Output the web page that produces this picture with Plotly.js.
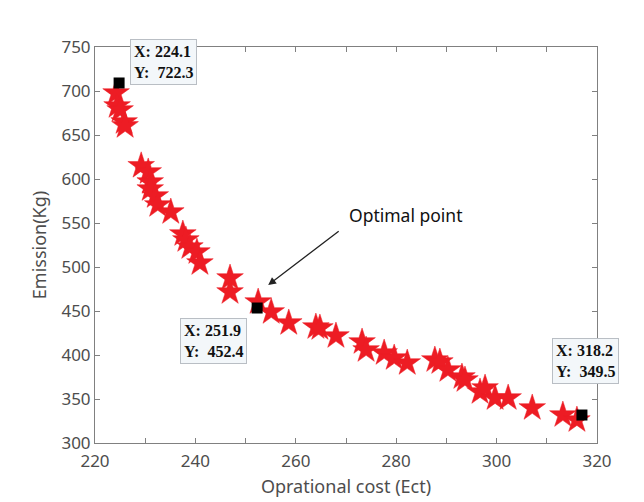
<!DOCTYPE html>
<html>
<head>
<meta charset="utf-8">
<script src="https://cdn.plot.ly/plotly-3.0.1.min.js"></script>
<style>html,body{margin:0;padding:0;background:#fff;}#chart{width:644px;height:502px;}</style>
</head>
<body>
<div id="chart"></div>
<script>
// Pareto front points (operational cost vs emission)
const costValues = [224.2,224.4,225.0,225.8,226.0,229.2,230.6,231.0,231.0,232.0,232.5,235.1,237.5,238.1,238.9,240.3,240.9,246.9,246.9,252.5,255.1,258.6,264.0,264.8,268.0,273.2,274.0,277.6,279.6,282.2,287.7,288.7,290.3,293.1,293.7,296.7,297.7,299.7,302.3,307.1,313.2,316.0];
const emissionValues = [697.7,683.0,678.4,664.8,660.3,615.0,608.0,596.6,588.6,580.7,570.5,562.5,537.5,530.7,522.7,517.0,504.5,487.5,471.6,460.2,448.9,436.4,431.8,430.7,421.6,414.8,405.7,402.3,396.6,390.9,394.3,392.0,383.0,375.0,371.6,358.0,362.5,351.1,351.1,339.8,331.8,326.1];
// Highlighted data-tip points
const tipCost = [224.8,252.3,317.0];
const tipEmission = [709.1,453.4,331.8];
const tipLabels = ["X: 224.1<br>Y:  722.3","X: 251.9<br>Y:  452.4","X: 318.2<br>Y:  349.5"];
const xTitle = "Oprational cost (Ect)";
const yTitle = "Emission(Kg)";
const noteText = "Optimal point";

const traces = [
  {x: costValues, y: emissionValues, type: 'scatter', mode: 'markers',
   marker: {symbol: 'star', size: 20, color: '#ed1c24', line: {color: '#ed1c24', width: 0.5}},
   hoverinfo: 'skip'},
  {x: tipCost, y: tipEmission, type: 'scatter', mode: 'markers',
   marker: {symbol: 'square', size: 11, color: '#000000'}, hoverinfo: 'skip'}
];

const tipPos = [[233.6,733],[243.6,416],[317.8,393]];
const annotations = tipLabels.map((t,i)=>({
  x: tipPos[i][0], y: tipPos[i][1], xref:'x', yref:'y', text: '<b>'+t+'</b>', showarrow:false,
  align:'left', bgcolor:'#f3f7fa', bordercolor:'#b9bec4', borderwidth:1, borderpad:3,
  font:{family:'Liberation Serif, Times New Roman, serif', size:16, color:'#111'}
}));
annotations.push({x:254.5, y:479.5, xref:'x', yref:'y', text:'', showarrow:true,
  ax:72, ay:-55, axref:'pixel', ayref:'pixel', arrowhead:2, arrowsize:1.2, arrowwidth:1.3, arrowcolor:'#222'});
annotations.push({x:282.0, y:559, xref:'x', yref:'y', text:noteText, showarrow:false,
  font:{family:'Noto Sans, Open Sans, sans-serif', size:17.5, color:'#111'}});

const layout = {
  width:644, height:502,
  margin:{l:95, r:47, t:47, b:59},
  paper_bgcolor:'#ffffff', plot_bgcolor:'#ffffff',
  showlegend:false,
  font:{family:'Noto Sans, Open Sans, sans-serif', color:'#4d4d4d'},
  xaxis:{range:[220,320], dtick:20, tick0:220, ticks:'inside', ticklen:5, tickcolor:'#808080',
    minor:{dtick:10, ticks:'inside', ticklen:5, tickcolor:'#808080'},
    showline:true, linecolor:'#808080', linewidth:1, mirror:'ticks', showgrid:false, zeroline:false,
    ticklabelstandoff:3,
    tickfont:{size:17, color:'#4d4d4d'},
    title:{text:xTitle, font:{size:18, color:'#4d4d4d'}, standoff:8}},
  yaxis:{range:[300,750], dtick:50, tick0:300, ticks:'inside', ticklen:5, tickcolor:'#808080',
    showline:true, linecolor:'#808080', linewidth:1, mirror:'ticks', showgrid:false, zeroline:false,
    tickfont:{size:17, color:'#4d4d4d'},
    title:{text:yTitle, font:{size:18, color:'#4d4d4d'}, standoff:10}},
  annotations: annotations
};
Plotly.newPlot('chart', traces, layout, {displayModeBar:false, staticPlot:true});
</script>
</body>
</html>
